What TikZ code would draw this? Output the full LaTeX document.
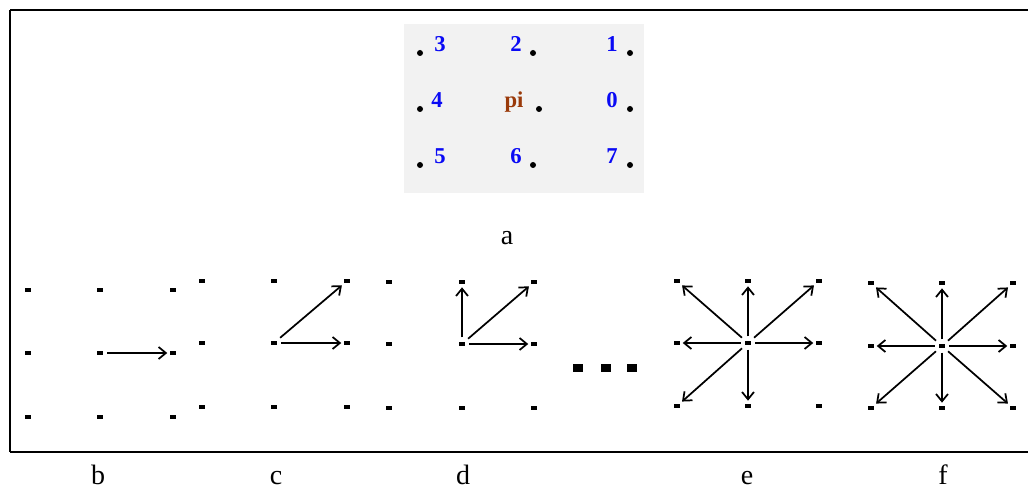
\documentclass[tikz,border=0pt]{standalone}
\usepackage{fontspec}
\setmainfont{Liberation Serif}
\usetikzlibrary{arrows.meta}
\definecolor{boxgray}{HTML}{F2F2F2}
\definecolor{numblue}{HTML}{0A0AF5}
\definecolor{pibrown}{HTML}{9A3A0A}
\tikzset{
  gdot/.style={fill=black,draw=none,rectangle,minimum width=4.2pt,minimum height=3.6pt,inner sep=0pt},
  bigdot/.style={fill=black,draw=none,rectangle,minimum width=6.8pt,minimum height=6.5pt,inner sep=0pt},
  cdot/.style={fill=black,draw=none,circle,minimum size=4.5pt,inner sep=0pt},
  num/.style={font=\fontsize{17}{19}\selectfont\bfseries,text=numblue,anchor=base,inner sep=0pt},
  captext/.style={font=\fontsize{21}{24}\selectfont,anchor=base,inner sep=0pt},
  arr/.style={-{Straight Barb[length=5.5pt,width=9pt]},line width=1.3pt,shorten <=3pt,shorten >=2pt}
}
\begin{document}
\begin{tikzpicture}[x=0.75pt,y=-0.75pt]
\useasboundingbox (0,0) rectangle (1028,488);
% frame
\coordinate (ftl) at (10,10);
\coordinate (ftr) at (1028,10);
\coordinate (fbl) at (10,452);
\coordinate (fbr) at (1028,452);
\draw[line width=1.7pt] (ftr) -- (ftl);
\draw[line width=1pt] (ftl) -- (fbl);
\draw[line width=1.2pt] (fbl) -- (fbr);
% gray box a
\fill[boxgray] (404,24) rectangle (644,193);
\node[cdot] (p3) at (420,53) {};
\node[cdot] (p2) at (533,53) {};
\node[cdot] (p1) at (630,53) {};
\node[cdot] (p4) at (420,109) {};
\node[cdot] (pc) at (539,109) {};
\node[cdot] (p0) at (630,109) {};
\node[cdot] (p5) at (420,165) {};
\node[cdot] (p6) at (533,165) {};
\node[cdot] (p7) at (630,165) {};
\node[num] (l3) at (440,52) {3};
\node[num] (l2) at (516,52) {2};
\node[num] (l1) at (612,52) {1};
\node[num] (l4) at (437,108) {4};
\node[num,text=pibrown] (lpi) at (514,108) {pi};
\node[num] (l0) at (612,108) {0};
\node[num] (l5) at (440,164) {5};
\node[num] (l6) at (516,164) {6};
\node[num] (l7) at (612,164) {7};
\node[captext] (capa) at (507,245) {a};
% grids
\foreach \n/\xa/\xb/\xc/\ya/\yb/\yc in {b/28/100/173/290/353/417, c/202/274/347/281/343/407, d/389/462/534/282/344/408, e/677/748/819/281/343/406, f/871/942/1013/283/346/408} {
  \node[gdot] (\n11) at (\xa,\ya) {};
  \node[gdot] (\n21) at (\xb,\ya) {};
  \node[gdot] (\n31) at (\xc,\ya) {};
  \node[gdot] (\n12) at (\xa,\yb) {};
  \node[gdot] (\n22) at (\xb,\yb) {};
  \node[gdot] (\n32) at (\xc,\yb) {};
  \node[gdot] (\n13) at (\xa,\yc) {};
  \node[gdot] (\n23) at (\xb,\yc) {};
  \node[gdot] (\n33) at (\xc,\yc) {};
}
% arrows
\draw[arr] (b22) -- (b32);
\draw[arr] (c22) -- (c32);
\draw[arr] (c22) -- (c31);
\draw[arr] (d22) -- (d21);
\draw[arr] (d22) -- (d31);
\draw[arr] (d22) -- (d32);
\foreach \t in {11,21,31,12,32,13,23} \draw[arr] (e22) -- (e\t);
\foreach \t in {11,21,31,12,32,13,23,33} \draw[arr] (f22) -- (f\t);
% ellipsis
\node[bigdot] (el1) at (578,368) {};
\node[bigdot] (el2) at (606,368) {};
\node[bigdot] (el3) at (632,368) {};
% captions
\node[captext] (capb) at (98,484) {b};
\node[captext] (capc) at (276,484) {c};
\node[captext] (capd) at (463,484) {d};
\node[captext] (cape) at (747,484) {e};
\node[captext] (capf) at (943,484) {f};
\end{tikzpicture}
\end{document}
